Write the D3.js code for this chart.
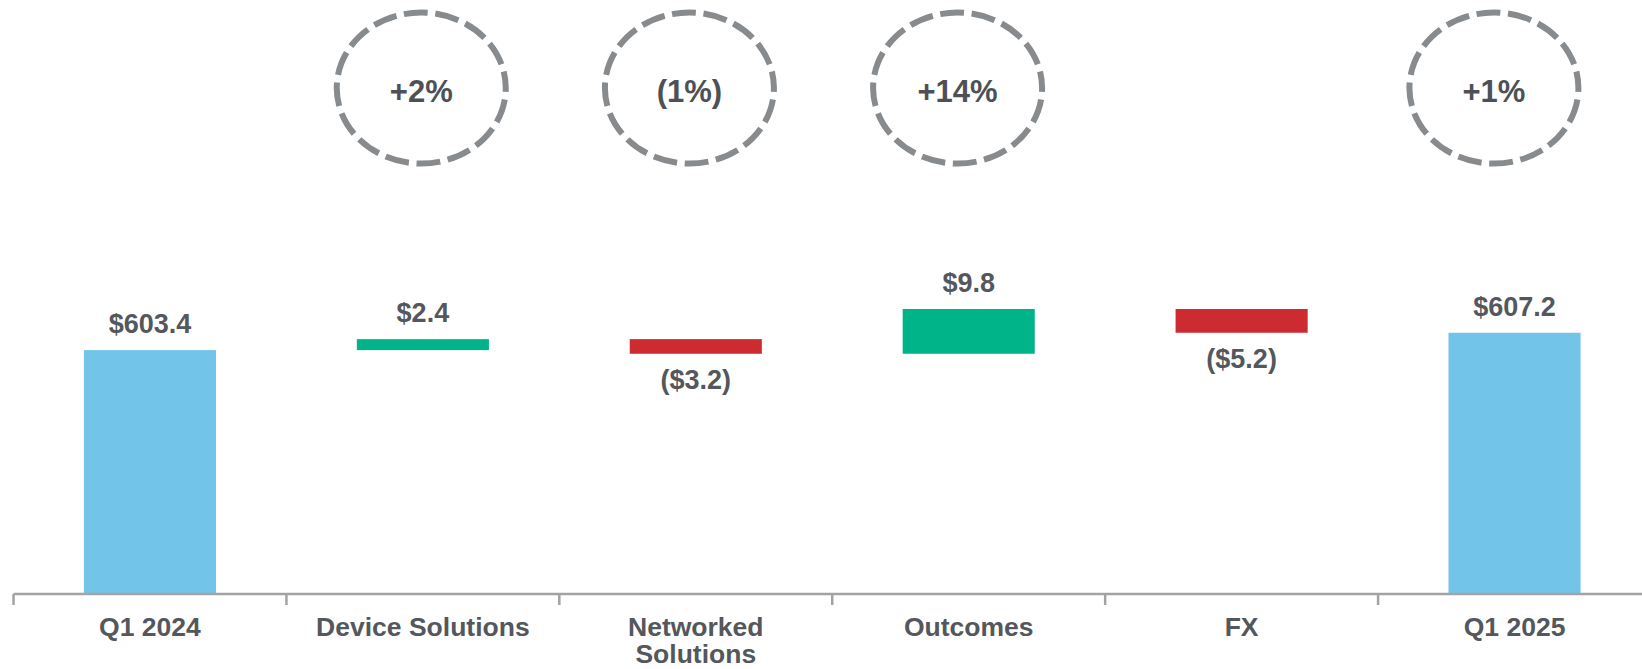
<!DOCTYPE html>
<html>
<head>
<meta charset="utf-8">
<script src="https://cdn.jsdelivr.net/npm/d3@7"></script>
<style>
  html, body { margin: 0; padding: 0; background: #ffffff; }
  svg { display: block; }
  text { font-family: "Liberation Sans", Arial, sans-serif; font-weight: bold; }
</style>
</head>
<body>
<svg id="chart" width="1642" height="669"></svg>
<script>
// ---- data ----
const categories = ["Q1 2024", "Device Solutions", "Networked Solutions", "Outcomes", "FX", "Q1 2025"];
const categoryLines = [["Q1 2024"], ["Device Solutions"], ["Networked", "Solutions"], ["Outcomes"], ["FX"], ["Q1 2025"]];
const values = [603.4, 2.4, -3.2, 9.8, -5.2, 607.2];
const kinds = ["total", "delta", "delta", "delta", "delta", "total"];
const valueLabels = ["$603.4", "$2.4", "($3.2)", "$9.8", "($5.2)", "$607.2"];
const growthLabels = ["", "+2%", "(1%)", "+14%", "", "+1%"];
const yDomain = [550, 612.4];

// ---- build waterfall segments ----
let running = 0;
const segs = categories.map((c, i) => {
  let lo, hi;
  if (kinds[i] === "total") { lo = yDomain[0]; hi = values[i]; running = values[i]; }
  else { const start = running; running += values[i]; lo = Math.min(start, running); hi = Math.max(start, running); }
  return { cat: c, i, lo, hi, v: values[i], kind: kinds[i], label: valueLabels[i] };
});

const svg = d3.select("#chart");
const W = 1642, H = 669;
const axisY = 594;

const x = d3.scaleBand().domain(categories).range([13.5, 1651]).padding(0);
const y = d3.scaleLinear().domain(yDomain).range([axisY, 309]);
const circleX = d3.scaleBand().domain(categories).range([19, 1628]).padding(0);

const barW = x.bandwidth() * 0.484;
const colors = { total: "#72c4e8", up: "#00b48a", down: "#cc2b31" };
const textColor = "#54575c";

// bars
svg.append("g").selectAll("rect").data(segs).join("rect")
  .attr("x", d => x(d.cat) + (x.bandwidth() - barW) / 2)
  .attr("width", barW)
  .attr("y", d => y(d.hi))
  .attr("height", d => y(d.lo) - y(d.hi))
  .attr("fill", d => d.kind === "total" ? colors.total : (d.v >= 0 ? colors.up : colors.down));

// value labels
svg.append("g").selectAll("text").data(segs).join("text")
  .attr("x", d => x(d.cat) + x.bandwidth() / 2)
  .attr("y", d => d.v >= 0 ? y(d.hi) - 17 : y(d.lo) + 35)
  .attr("text-anchor", "middle")
  .attr("font-size", 27)
  .attr("fill", textColor)
  .text(d => d.label);

// axis line + boundary ticks
const axisG = svg.append("g").attr("stroke", "#a3a3a3").attr("stroke-width", 2.5);
axisG.append("line")
  .attr("x1", x.range()[0]).attr("x2", W)
  .attr("y1", axisY).attr("y2", axisY);
const tickXs = categories.map(c => x(c)).concat([x.range()[1]]);
axisG.selectAll("line.tick").data(tickXs).join("line").attr("class", "tick")
  .attr("x1", d => d).attr("x2", d => d)
  .attr("y1", axisY).attr("y2", axisY + 11);

// category labels
const catG = svg.append("g").selectAll("text").data(categories).join("text")
  .attr("x", d => x(d) + x.bandwidth() / 2)
  .attr("y", 636)
  .attr("text-anchor", "middle")
  .attr("font-size", 26.5)
  .attr("fill", textColor);
catG.each(function(d, i) {
  const t = d3.select(this);
  categoryLines[i].forEach((line, k) => {
    t.append("tspan").attr("x", x(d) + x.bandwidth() / 2).attr("dy", k === 0 ? 0 : 27).text(line);
  });
});

// growth circles
const growth = categories.map((c, i) => ({ cat: c, label: growthLabels[i] })).filter(d => d.label !== "");
const cg = svg.append("g").selectAll("g").data(growth).join("g")
  .attr("transform", d => `translate(${circleX(d.cat) + circleX.bandwidth() / 2},88)`);
cg.append("ellipse")
  .attr("rx", 84.5).attr("ry", 75.5)
  .attr("fill", "none")
  .attr("stroke", "#888b8e")
  .attr("stroke-width", 6)
  .attr("stroke-dasharray", "24 7.6")
  .attr("stroke-dashoffset", 20);
cg.append("text")
  .attr("y", 14)
  .attr("text-anchor", "middle")
  .attr("font-size", 31)
  .attr("fill", "#4d5157")
  .text(d => d.label);
</script>
</body>
</html>
